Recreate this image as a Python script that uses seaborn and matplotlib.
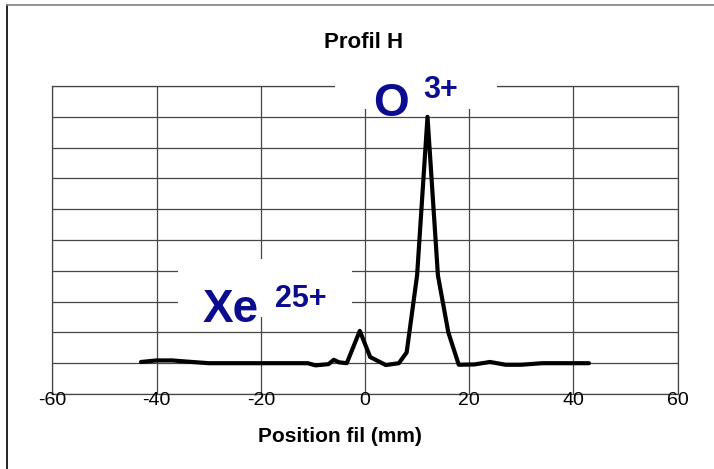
import matplotlib
matplotlib.use("Agg")
import matplotlib.pyplot as plt
import matplotlib.patches as mpatches
from matplotlib.lines import Line2D
import seaborn as sns
import pandas as pd

# ============================================================
#  Data
# ============================================================
position_mm = [-43, -40, -37, -34, -30, -25, -20, -15, -11, -9.5, -7, -6, -5, -3.5,
               -1, 1, 4, 6.5, 8, 10, 12, 14, 16, 18, 21, 24, 27, 30, 34, 37, 40, 43]
intensity = [0.04, 0.09, 0.09, 0.05, 0.0, 0.0, 0.0, 0.0, 0.0, -0.07, -0.03, 0.11, 0.03, 0.0,
             1.05, 0.2, -0.06, 0.0, 0.35, 2.85, 8.0, 2.85, 1.0, -0.05, -0.04, 0.04, -0.05,
             -0.05, 0.0, 0.0, 0.0, 0.0]
x_ticks = [-60, -40, -20, 0, 20, 40, 60]
y_grid = list(range(-1, 10))

title = "Profil H"
x_label = "Position fil (mm)"
ion_labels = [("O", "3+"), ("Xe", "25+")]

df = pd.DataFrame({"position": position_mm, "intensity": intensity})

# ============================================================
#  Plot
# ============================================================
sns.set_style("white")
plt.rcParams["font.family"] = ["Liberation Sans", "DejaVu Sans"]
plt.rcParams["axes.unicode_minus"] = False
plt.rcParams["text.color"] = "black"
plt.rcParams["xtick.color"] = "black"

GRID = "#454545"
NAVY = "#0c0c8f"

fig = plt.figure(figsize=(7.14, 4.69), dpi=100)
ax = fig.add_axes([0.0735, 0.1599, 0.8754, 0.6567])

sns.lineplot(data=df, x="position", y="intensity", color="black", linewidth=3,
             sort=False, ax=ax, zorder=2)

ax.set_xlim(-60, 60)
ax.set_ylim(-1, 9)
ax.set_xticks(x_ticks)
ax.set_yticks(y_grid)
ax.set_yticklabels([])
ax.tick_params(axis="y", length=0)
ax.tick_params(axis="x", length=0, pad=-1.5, labelsize=14, labelcolor="black")
ax.grid(True, color=GRID, linewidth=0.9)
ax.set_axisbelow(True)
for side in ["left", "right", "top", "bottom"]:
    ax.spines[side].set_color(GRID)
    ax.spines[side].set_linewidth(0.9)
    ax.spines[side].set_zorder(0.5)
ax.set_xlabel("")
ax.set_ylabel("")

# white boxes behind the ion labels (hide grid like the original)
ax.add_patch(mpatches.Rectangle((-5.8, 8.26), 31.1, 1.2, facecolor="white",
                                edgecolor="none", zorder=1, clip_on=False))
ax.add_patch(mpatches.Rectangle((-35.9, 1.51), 33.4, 1.86, facecolor="white",
                                edgecolor="none", zorder=1, clip_on=False))

(o_main, o_sup), (xe_main, xe_sup) = ion_labels
ax.text(1.5, 8.03, o_main, fontsize=33, fontweight="bold", color=NAVY,
        ha="left", va="baseline", zorder=3, clip_on=False)
ax.text(11.1, 8.62, o_sup, fontsize=22, fontweight="bold", color=NAVY,
        ha="left", va="baseline", zorder=3, clip_on=False)
ax.text(-31.1, 1.35, xe_main, fontsize=33, fontweight="bold", color=NAVY,
        ha="left", va="baseline", zorder=3)
ax.text(-17.3, 1.84, xe_sup, fontsize=22, fontweight="bold", color=NAVY,
        ha="left", va="baseline", zorder=3)

fig.text(364 / 714, 1 - 42 / 469, title, fontsize=16, fontweight="bold",
         color="black", ha="center", va="center")
fig.text(340 / 714, 1 - 436 / 469, x_label, fontsize=15, fontweight="bold",
         color="black", ha="center", va="center")

# outer chart frame (left and top edges only)
fig.add_artist(Line2D([7 / 714, 7 / 714], [0, 1 - 5 / 469], color="black", linewidth=1.2))
fig.add_artist(Line2D([7 / 714, 1], [1 - 5 / 469, 1 - 5 / 469], color="#808080", linewidth=1.2))

fig.savefig("out.png", dpi=100)
